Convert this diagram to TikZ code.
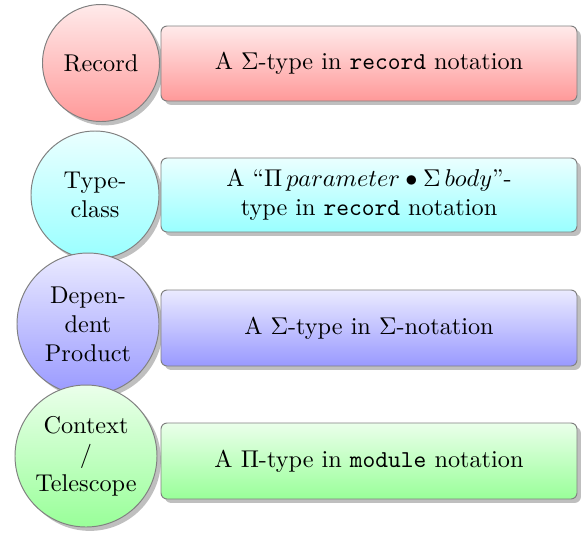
\documentclass[tikz,border=0pt]{standalone}
\usetikzlibrary{shadows}
\def\pxu{0.412}
\tikzset{
  base/.style={draw=gray, line width=0.4pt, drop shadow={shadow xshift=1.6pt, shadow yshift=-1.6pt}},
  modcircle/.style 2 args={base, circle, inner sep=0pt, align=center,
     minimum size=\pxu*#1*1pt, top color=#2!8, bottom color=#2!40},
  descbox/.style 2 args={base, rectangle, rounded corners=2.5pt, align=center,
     minimum width=\pxu*416pt, minimum height=\pxu*#1*1pt, top color=#2!8, bottom color=#2!40},
}
\begin{document}
\begin{tikzpicture}[x=0.412pt, y=-0.412pt]
\useasboundingbox (0,0) rectangle (584,536);
% row 1
\node[modcircle={117}{red}] (c1) at (101,63) {Record};
\node[descbox={75}{red}] (d1) at (369,63.5) {A $\Sigma$-type in \texttt{record} notation};
% row 2
\node[modcircle={128}{cyan}] (c2) at (95,195) {Type-\\class};
\node[descbox={74}{cyan}] (d2) at (369,195) {A ``$\Pi\,parameter \bullet \Sigma\,body$''-\\type in \texttt{record} notation};
% row 3
\node[modcircle={142}{blue}] (c3) at (88,324) {Depen-\\dent\\Product};
\node[descbox={76}{blue}] (d3) at (369,328) {A $\Sigma$-type in $\Sigma$-notation};
% row 4
\node[modcircle={142}{green}] (c4) at (86,456) {Context\\/\\Telescope};
\node[descbox={76}{green}] (d4) at (369,461) {A $\Pi$-type in \texttt{module} notation};
\end{tikzpicture}
\end{document}
